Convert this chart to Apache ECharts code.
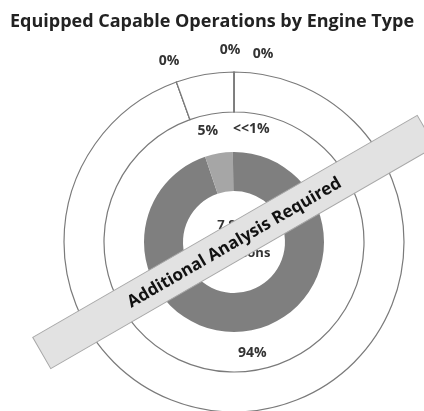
<!DOCTYPE html>
<html>
<head>
<meta charset="utf-8">
<script src="https://cdn.jsdelivr.net/npm/echarts@6/dist/echarts.min.js"></script>
<style>
  html, body { margin: 0; padding: 0; background: #fff; }
  #chart { width: 424px; height: 411px; }
</style>
</head>
<body>
<div id="chart"></div>
<script>
// 数据
const chartTitle = 'Equipped Capable Operations by Engine Type'
const bannerText = 'Additional Analysis Required'
const centerLines = ['7,946', 'Total', 'Operations']

const innerNames = ['Equipped', 'Capable', 'Other']
const innerValues = [94.8, 5, 0.2]
const innerLabels = ['94%', '5%', '<<1%']

const outerNames = ['Equipped', 'Gap A', 'Capable', 'Gap B', 'Gap C']
const outerValues = [94.5, 0, 5.5, 0, 0]
const outerLabels = ['', '0%', '', '0%', '0%']

const center = [234, 242]
const labelFont = { fontFamily: 'Open Sans', fontWeight: 'bold', fontSize: 14, color: '#333' }

// label nudges (Excel moved the crowded ones apart)
const innerNudge = { 1: [-7, 0], 2: [18, 0] }
const outerNudge = { 3: [-4, 0], 4: [29, 4] }

const chart = echarts.init(document.getElementById('chart'))

chart.setOption({
  animation: false,
  title: {
    text: chartTitle,
    left: 'center',
    top: 8,
    textStyle: { fontFamily: 'Open Sans', fontWeight: 'bold', fontSize: 18, color: '#222' }
  },
  series: [
    // inner donut
    {
      type: 'pie',
      center: center,
      radius: [51, 90],
      silent: true,
      label: { show: false },
      labelLine: { show: false },
      data: innerValues.map((v, i) => ({
        name: innerNames[i],
        value: v,
        itemStyle: { color: i === 1 ? '#a6a6a6' : '#7f7f7f' }
      }))
    },
    // middle ring, carries the inner labels
    {
      type: 'pie',
      center: center,
      radius: [90, 130],
      silent: true,
      itemStyle: { color: 'rgba(0,0,0,0)' },
      label: {
        show: true,
        position: 'inside',
        formatter: (p) => innerLabels[p.dataIndex],
        ...labelFont
      },
      labelLayout: (p) => {
        const n = innerNudge[p.dataIndex]
        return n ? { dx: n[0], dy: n[1] } : {}
      },
      data: innerValues.map((v, i) => ({ name: innerNames[i], value: v }))
    },
    // outer ring
    {
      type: 'pie',
      center: center,
      radius: [130, 170],
      silent: true,
      itemStyle: { color: '#fff', borderColor: '#7a7a7a', borderWidth: 1.2 },
      label: { show: false },
      labelLine: { show: false },
      data: outerValues.map((v, i) => ({ name: outerNames[i], value: v }))
    },
    // outer labels
    {
      type: 'pie',
      center: center,
      radius: [178, 200],
      silent: true,
      itemStyle: { color: 'rgba(0,0,0,0)' },
      label: {
        show: true,
        position: 'inside',
        formatter: (p) => outerLabels[p.dataIndex],
        ...labelFont
      },
      labelLayout: (p) => {
        const n = outerNudge[p.dataIndex]
        return n ? { dx: n[0], dy: n[1] } : {}
      },
      data: outerValues.map((v, i) => ({ name: outerNames[i], value: v }))
    }
  ],
  graphic: [
    {
      type: 'text',
      x: center[0],
      y: center[1] - 3,
      z: 50,
      style: {
        text: centerLines.join('\n'),
        align: 'center',
        verticalAlign: 'middle',
        lineHeight: 14,
        font: 'bold 13px "Open Sans"',
        fill: '#333'
      }
    },
    {
      type: 'group',
      x: center[0],
      y: center[1],
      rotation: Math.PI / 6,
      z: 100,
      children: [
        {
          type: 'rect',
          z: 100,
          shape: { x: -222, y: -18, width: 444, height: 36 },
          style: { fill: '#e2e2e2', stroke: '#a8a8a8', lineWidth: 1 }
        },
        {
          type: 'text',
          z: 101,
          x: 0,
          y: 1,
          style: {
            text: bannerText,
            align: 'center',
            verticalAlign: 'middle',
            font: 'bold 17px "Open Sans"',
            fill: '#111'
          }
        }
      ]
    }
  ]
})
</script>
</body>
</html>
